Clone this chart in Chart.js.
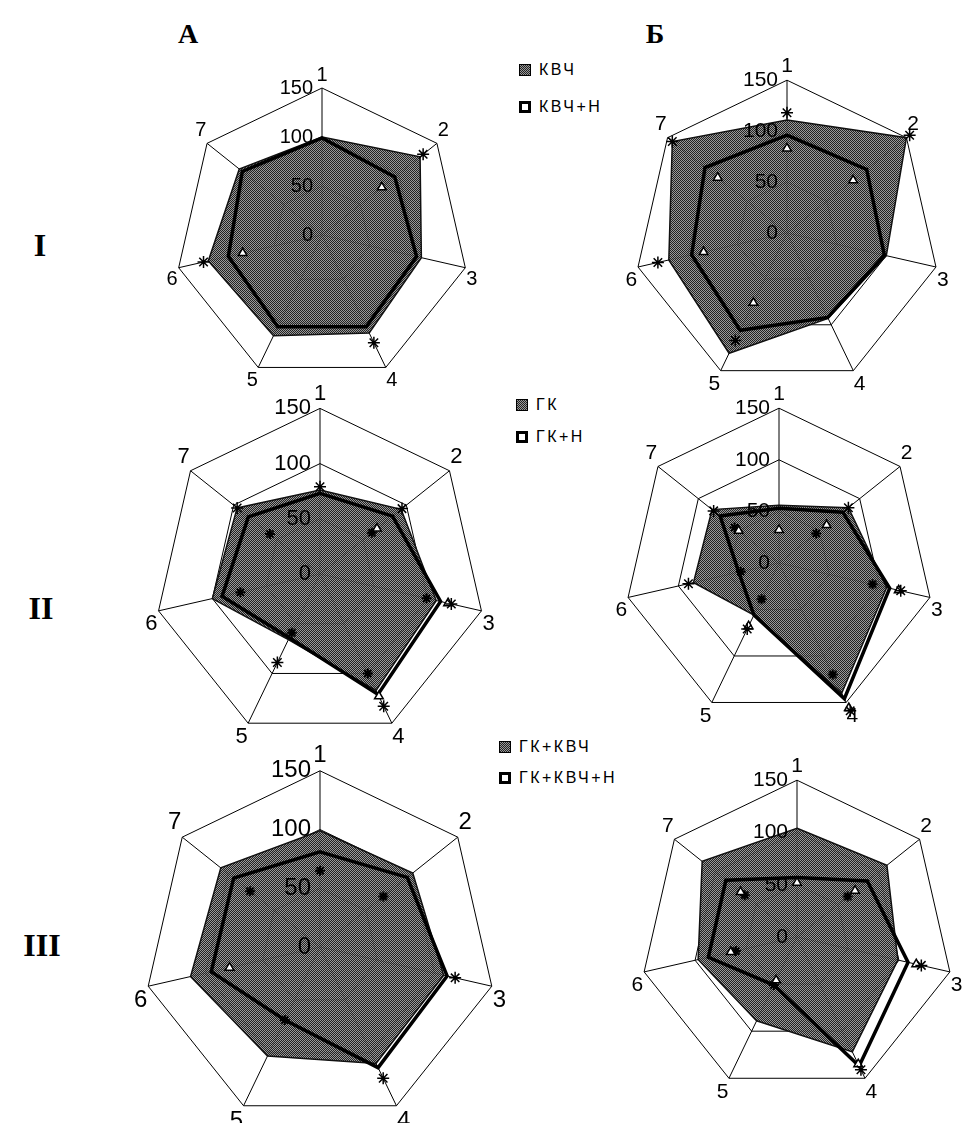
<!DOCTYPE html>
<html>
<head>
<meta charset="utf-8">
<script src="https://cdn.jsdelivr.net/npm/chart.js@4.4.1/dist/chart.umd.min.js"></script>
<style>
  body { margin: 0; background: #fff; }
  #page { position: relative; width: 973px; height: 1123px; overflow: hidden; background: #fff; }
  #page canvas { position: absolute; }
  .hdr { position: absolute; transform: translate(-50%, -50%); font: bold 28px "Liberation Serif", "Times New Roman", serif; color: #000; }
  .row { position: absolute; transform: translate(-50%, -50%); font: bold 32px "Liberation Serif", "Times New Roman", serif; color: #000; }
  .leg { position: absolute; font: 16px "Liberation Sans", Arial, sans-serif; letter-spacing: 2.5px; color: #000; line-height: 16px; white-space: nowrap; }
  .leg span { display: inline-block; width: 12px; height: 12px; box-sizing: border-box; margin-right: 8px; vertical-align: -1px; }
  .leg .filled { border: 1px solid #000; background: repeating-conic-gradient(#222 0 25%, #999 0 50%) 0 0 / 2px 2px; }
  .leg .empty { border: 3px solid #000; background: #fff; }
</style>
</head>
<body>
<div id="page">
  <div class="hdr" style="left:188px; top:34px">А</div>
  <div class="hdr" style="left:655px; top:34px">Б</div>
  <div class="row" style="left:40px; top:245px">I</div>
  <div class="row" style="left:41px; top:608px">II</div>
  <div class="row" style="left:42px; top:945px">III</div>

  <div class="leg" style="left:519px; top:62px"><span class="filled"></span>КВЧ</div>
  <div class="leg" style="left:519px; top:99px"><span class="empty"></span>КВЧ+Н</div>
  <div class="leg" style="left:516px; top:397px"><span class="filled"></span>ГК</div>
  <div class="leg" style="left:516px; top:429px"><span class="empty"></span>ГК+Н</div>
  <div class="leg" style="left:499px; top:739px"><span class="filled"></span>ГК+КВЧ</div>
  <div class="leg" style="left:499px; top:770px"><span class="empty"></span>ГК+КВЧ+Н</div>
</div>
<script>
const axisLabels = ['1', '2', '3', '4', '5', '6', '7'];
const tickValues = [0, 50, 100, 150];

// I, column А
const kvchA      = [100, 128, 104, 111, 114, 119, 108];
const kvchNA     = [99, 95, 99, 104, 104, 98, 104];
const starsOutA1 = [null, 132, null, 122, null, 124, null];
const starsInA1  = [null, null, null, null, null, null, null];
const trisA1     = [null, 78, null, null, null, 83, null];

// I, column Б
const kvchB      = [111, 150, 100, 93, 131, 119, 144];
const kvchNB     = [96, 100, 98, 92, 106, 96, 103];
const starsOutB1 = [118, 154, null, null, 117, 130, 144];
const starsInB1  = [null, null, null, null, null, null, null];
const trisB1     = [83, 83, null, null, 76, 84, 87];

// II, column А
const gkA        = [76, 94, 108, 117, 66, 100, 96];
const gkNA       = [73, 84, 112, 121, 64, 91, 83];
const starsOutA2 = [79, 95, 122, 133, 89, null, 96];
const starsInA2  = [null, 60, 99, 100, 59, 74, 58];
const trisA2     = [null, 66, 119, 123, null, null, null];

// II, column Б
const gkB        = [56, 86, 107, 140, 56, 85, 83];
const gkNB       = [53, 79, 110, 146, 56, 40, 73];
const starsOutB2 = [null, 86, 121, 159, 71, 90, 81];
const starsInB2  = [null, 46, 93, 120, 39, 38, 55];
const trisB2     = [32, 59, 119, 156, 68, null, 50];

// III, column А
const gkKvchA    = [99, 101, 108, 110, 103, 113, 108];
const gkKvchNA   = [81, 95, 111, 114, 69, 95, 94];
const starsOutA3 = [null, null, 118, 124, null, null, null];
const starsInA3  = [65, 69, null, null, 69, null, 76];
const trisA3     = [null, null, null, null, null, 79, null];

// III, column Б
const gkKvchB    = [104, 110, 99, 122, 89, 97, 116];
const gkKvchNB   = [57, 86, 109, 137, 51, 87, 87];
const starsOutB3 = [null, null, 122, 141, null, null, null];
const starsInB3  = [null, 62, null, null, 51, 60, 64];
const trisB3     = [52, 71, 117, 135, 46, 65, 69];

const FONT = '"Liberation Sans", Arial, sans-serif';
Chart.defaults.font.family = FONT;

// dotted grey fill like the print
function makePattern() {
  const c = document.createElement('canvas');
  c.width = 2; c.height = 2;
  const g = c.getContext('2d');
  g.fillStyle = 'rgba(140,140,140,0.88)';
  g.fillRect(0, 0, 2, 2);
  g.fillStyle = '#222';
  g.fillRect(0, 0, 1, 1);
  g.fillRect(1, 1, 1, 1);
  return g.createPattern(c, 'repeat');
}
const fillPattern = makePattern();

// tick numbers sit left of the vertical axis
const tickLabels = {
  id: 'tickLabels',
  afterDatasetsDraw(chart, args, opts) {
    const sc = chart.scales.r;
    const ctx = chart.ctx;
    ctx.save();
    ctx.font = opts.size + 'px ' + FONT;
    ctx.fillStyle = '#000';
    ctx.textAlign = 'right';
    ctx.textBaseline = 'middle';
    sc.ticks.forEach(t => {
      if (!tickValues.includes(t.value)) return;
      const d = sc.getDistanceFromCenterForValue(t.value);
      ctx.fillText(t.label, sc.xCenter - 9, sc.yCenter - d);
    });
    ctx.restore();
  }
};

function config(base, withN, starsOut, starsIn, tris, fs) {
  return {
    type: 'radar',
    data: {
      labels: axisLabels,
      datasets: [
        { data: base, order: 5, fill: true, backgroundColor: fillPattern,
          borderColor: '#111', borderWidth: 1.5, pointRadius: 0 },
        { data: withN, order: 4, fill: false, backgroundColor: 'rgba(0,0,0,0)',
          borderColor: '#000', borderWidth: 3.5, pointRadius: 0 },
        { data: starsIn, order: 2, fill: false, showLine: false, pointStyle: 'star',
          pointRadius: 5, pointBorderColor: '#000', pointBorderWidth: 2 },
        { data: starsOut, order: 1, fill: false, showLine: false, pointStyle: 'star',
          pointRadius: 6, pointBorderColor: '#000', pointBorderWidth: 1.5 },
        { data: tris, order: 1, fill: false, showLine: false, pointStyle: 'triangle',
          pointRadius: 5, pointBackgroundColor: '#fff', pointBorderColor: '#000', pointBorderWidth: 1.5 }
      ]
    },
    options: {
      responsive: false,
      animation: false,
      events: [],
      elements: { line: { tension: 0 } },
      plugins: {
        legend: { display: false },
        tooltip: { enabled: false },
        tickLabels: { size: fs }
      },
      scales: {
        r: {
          min: 0,
          max: 150,
          beginAtZero: true,
          ticks: { display: false, stepSize: 50 },
          grid: { color: '#000', lineWidth: 1 },
          angleLines: { color: '#000', lineWidth: 1 },
          pointLabels: { color: '#000', padding: 1, font: { size: fs, family: FONT } }
        }
      }
    },
    plugins: [tickLabels]
  };
}

// build one panel so that its centre and 150-ring radius land where the print has them
function panel(cx, cy, R, base, withN, starsOut, starsIn, tris) {
  const page = document.getElementById('page');
  const fs = Math.round(R * 0.135);
  let size = 2 * (R + 32);
  let chart, canvas;
  for (let k = 0; k < 3; k++) {
    canvas = document.createElement('canvas');
    canvas.width = size;
    canvas.height = size;
    page.appendChild(canvas);
    chart = new Chart(canvas, config(base, withN, starsOut, starsIn, tris, fs));
    const r = chart.scales.r.drawingArea;
    if (Math.abs(r - R) < 1 || k === 2) break;
    chart.destroy();
    canvas.remove();
    size = Math.round(size + 2 * (R - r));
  }
  const sc = chart.scales.r;
  canvas.style.left = (cx - sc.xCenter) + 'px';
  canvas.style.top = (cy - sc.yCenter) + 'px';
}

panel(322, 235, 147, kvchA, kvchNA, starsOutA1, starsInA1, trisA1);
panel(787, 233, 153, kvchB, kvchNB, starsOutB1, starsInB1, trisB1);
panel(320, 574, 166, gkA, gkNA, starsOutA2, starsInA2, trisA2);
panel(779, 563, 155, gkB, gkNB, starsOutB2, starsInB2, trisB2);
panel(320, 947, 176, gkKvchA, gkKvchNA, starsOutA3, starsInA3, trisA3);
panel(797, 937, 157, gkKvchB, gkKvchNB, starsOutB3, starsInB3, trisB3);
</script>
</body>
</html>
